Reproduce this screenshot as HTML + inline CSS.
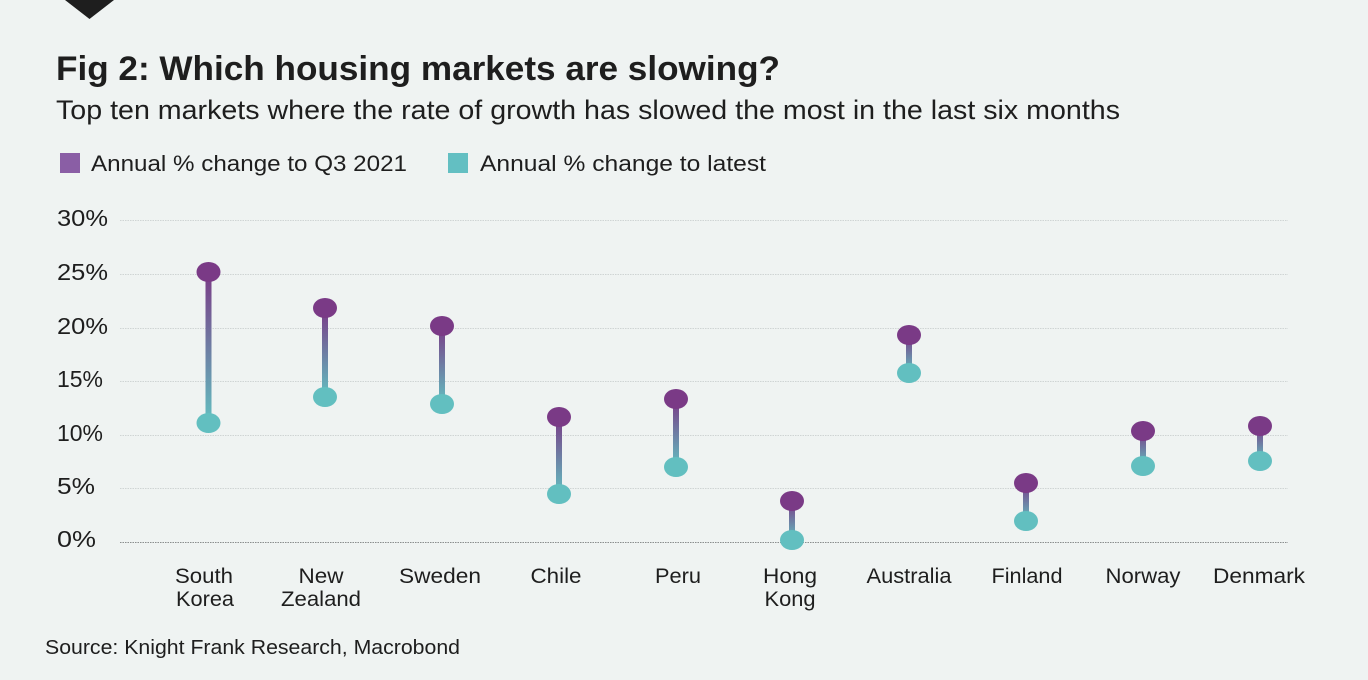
<!DOCTYPE html>
<html>
<head>
<meta charset="utf-8">
<style>
  html, body { margin:0; padding:0; background:#eff3f2; }
  body { width:1368px; height:680px; overflow:hidden; }
  svg { display:block; }
  text { font-family:"Liberation Sans", "DejaVu Sans", sans-serif; fill:#1e1e1e; }
</style>
</head>
<body>
<svg width="1368" height="680" viewBox="0 0 1368 680" xmlns="http://www.w3.org/2000/svg">
  <defs>
    <linearGradient id="g" x1="0" y1="0" x2="0" y2="1">
      <stop offset="0" stop-color="#7a3a86"/>
      <stop offset="1" stop-color="#62bfc0"/>
    </linearGradient>
  </defs>
  <rect width="1368" height="680" fill="#eff3f2"/>
  <polygon points="65,0 114,0 89.5,19" fill="#1e1e1e"/>

  <text x="56" y="80" font-size="34" font-weight="bold" textLength="724" lengthAdjust="spacingAndGlyphs">Fig 2: Which housing markets are slowing?</text>
  <text x="56" y="119" font-size="27" textLength="1064" lengthAdjust="spacingAndGlyphs">Top ten markets where the rate of growth has slowed the most in the last six months</text>

  <rect x="60" y="153" width="20" height="20" fill="#8a5ea5"/>
  <text x="91" y="171" font-size="22" textLength="316" lengthAdjust="spacingAndGlyphs">Annual % change to Q3 2021</text>
  <rect x="448" y="153" width="20" height="20" fill="#63bfc2"/>
  <text x="480" y="171" font-size="22" textLength="286" lengthAdjust="spacingAndGlyphs">Annual % change to latest</text>

  <!-- gridlines -->
  <g stroke="#cfd4d4" stroke-width="1" stroke-dasharray="1.5,1">
    <line x1="120" y1="220.5" x2="1288" y2="220.5"/>
    <line x1="120" y1="274.5" x2="1288" y2="274.5"/>
    <line x1="120" y1="328.5" x2="1288" y2="328.5"/>
    <line x1="120" y1="381.5" x2="1288" y2="381.5"/>
    <line x1="120" y1="435.5" x2="1288" y2="435.5"/>
    <line x1="120" y1="488.5" x2="1288" y2="488.5"/>
  </g>
  <line x1="120" y1="542.5" x2="1288" y2="542.5" stroke="#8a8e8e" stroke-width="1" stroke-dasharray="1.5,1"/>

  <!-- y labels -->
  <g font-size="23">
    <text x="57" y="226" textLength="51" lengthAdjust="spacingAndGlyphs">30%</text>
    <text x="57" y="280" textLength="51" lengthAdjust="spacingAndGlyphs">25%</text>
    <text x="57" y="334" textLength="51" lengthAdjust="spacingAndGlyphs">20%</text>
    <text x="57" y="387" textLength="46" lengthAdjust="spacingAndGlyphs">15%</text>
    <text x="57" y="441" textLength="46" lengthAdjust="spacingAndGlyphs">10%</text>
    <text x="57" y="494" textLength="38" lengthAdjust="spacingAndGlyphs">5%</text>
    <text x="57" y="547" textLength="39" lengthAdjust="spacingAndGlyphs">0%</text>
  </g>

  <!-- stems -->
  <g fill="url(#g)">
    <rect x="205.5" y="272" width="6" height="151"/>
    <rect x="322" y="308" width="6" height="89"/>
    <rect x="439" y="326" width="6" height="78"/>
    <rect x="556" y="417" width="6" height="77"/>
    <rect x="673" y="399" width="6" height="68"/>
    <rect x="789" y="501" width="6" height="39"/>
    <rect x="906" y="335" width="6" height="38"/>
    <rect x="1023" y="483" width="6" height="38"/>
    <rect x="1140" y="431" width="6" height="35"/>
    <rect x="1257" y="426" width="6" height="35"/>
  </g>
  <!-- dots -->
  <g fill="#7a3a86">
    <ellipse cx="208.5" cy="272" rx="12" ry="10"/>
    <ellipse cx="325" cy="308" rx="12" ry="10"/>
    <ellipse cx="442" cy="326" rx="12" ry="10"/>
    <ellipse cx="559" cy="417" rx="12" ry="10"/>
    <ellipse cx="676" cy="399" rx="12" ry="10"/>
    <ellipse cx="792" cy="501" rx="12" ry="10"/>
    <ellipse cx="909" cy="335" rx="12" ry="10"/>
    <ellipse cx="1026" cy="483" rx="12" ry="10"/>
    <ellipse cx="1143" cy="431" rx="12" ry="10"/>
    <ellipse cx="1260" cy="426" rx="12" ry="10"/>
  </g>
  <g fill="#62bfc0">
    <ellipse cx="208.5" cy="423" rx="12" ry="10"/>
    <ellipse cx="325" cy="397" rx="12" ry="10"/>
    <ellipse cx="442" cy="404" rx="12" ry="10"/>
    <ellipse cx="559" cy="494" rx="12" ry="10"/>
    <ellipse cx="676" cy="467" rx="12" ry="10"/>
    <ellipse cx="792" cy="540" rx="12" ry="10"/>
    <ellipse cx="909" cy="373" rx="12" ry="10"/>
    <ellipse cx="1026" cy="521" rx="12" ry="10"/>
    <ellipse cx="1143" cy="466" rx="12" ry="10"/>
    <ellipse cx="1260" cy="461" rx="12" ry="10"/>
  </g>

  <!-- x labels -->
  <g font-size="21" text-anchor="middle">
    <text x="204" y="583" textLength="58" lengthAdjust="spacingAndGlyphs">South</text>
    <text x="205" y="606" textLength="58" lengthAdjust="spacingAndGlyphs">Korea</text>
    <text x="321" y="583" textLength="45" lengthAdjust="spacingAndGlyphs">New</text>
    <text x="321" y="606" textLength="80" lengthAdjust="spacingAndGlyphs">Zealand</text>
    <text x="440" y="583" textLength="82" lengthAdjust="spacingAndGlyphs">Sweden</text>
    <text x="556" y="583" textLength="51" lengthAdjust="spacingAndGlyphs">Chile</text>
    <text x="678" y="583" textLength="46" lengthAdjust="spacingAndGlyphs">Peru</text>
    <text x="790" y="583" textLength="54" lengthAdjust="spacingAndGlyphs">Hong</text>
    <text x="790" y="606" textLength="51" lengthAdjust="spacingAndGlyphs">Kong</text>
    <text x="909" y="583" textLength="85" lengthAdjust="spacingAndGlyphs">Australia</text>
    <text x="1027" y="583" textLength="71" lengthAdjust="spacingAndGlyphs">Finland</text>
    <text x="1143" y="583" textLength="75" lengthAdjust="spacingAndGlyphs">Norway</text>
    <text x="1259" y="583" textLength="92" lengthAdjust="spacingAndGlyphs">Denmark</text>
  </g>

  <text x="45" y="654" font-size="20" textLength="415" lengthAdjust="spacingAndGlyphs">Source: Knight Frank Research, Macrobond</text>
</svg>
</body>
</html>
